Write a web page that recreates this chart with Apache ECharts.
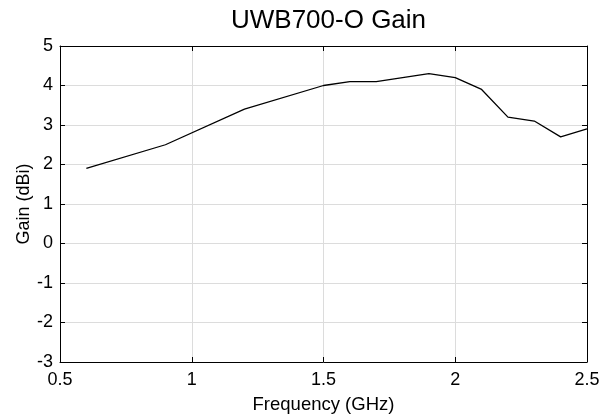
<!DOCTYPE html>
<html><head><meta charset="utf-8">
<script src="https://cdn.jsdelivr.net/npm/echarts@6/dist/echarts.min.js"></script>
<style>html,body{margin:0;padding:0;background:#fff}#c{width:611px;height:419px}</style>
</head><body><div id="c"></div>
<script>
const freq = [0.6, 0.9, 1.2, 1.5, 1.6, 1.7, 1.9, 2.0, 2.1, 2.2, 2.3, 2.4, 2.5];
const gain = [1.9, 2.5, 3.4, 4.0, 4.1, 4.1, 4.3, 4.2, 3.9, 3.2, 3.1, 2.7, 2.9];
const chart = echarts.init(document.getElementById('c'));
const font = 'Liberation Sans, Arial, Helvetica, sans-serif';
const axBase = {
  axisLine: {show: true, onZero: false, lineStyle: {color: '#000', width: 1}},
  axisTick: {show: true, inside: true, length: 5, lineStyle: {color: '#000'}},
  axisLabel: {color: '#000', fontSize: 18, fontFamily: font},
  splitLine: {show: true, lineStyle: {color: '#dcdcdc', width: 1}}
};
chart.setOption({
  animation: false,
  title: {text: 'UWB700-O Gain', left: 226, top: 3, textStyle: {fontSize: 26, fontWeight: 'normal', color: '#000', fontFamily: font}},
  grid: {left: 60, right: 24, top: 46, bottom: 55},
  xAxis: [
    Object.assign({}, axBase, {type: 'value', min: 0.5, max: 2.5, interval: 0.5, name: 'Frequency (GHz)', nameLocation: 'middle', nameGap: 33, nameMoveOverlap: false, nameTextStyle: {fontSize: 18.5, color: '#000', fontFamily: font}, axisLabel: Object.assign({}, axBase.axisLabel, {margin: 9})}),
    Object.assign({}, axBase, {type: 'value', position: 'top', min: 0.5, max: 2.5, interval: 0.5, axisLabel: {show: false}, splitLine: {show: false}})
  ],
  yAxis: [
    Object.assign({}, axBase, {type: 'value', min: -3, max: 5, interval: 1, name: 'Gain (dBi)', nameLocation: 'middle', nameGap: 27, nameMoveOverlap: false, nameTextStyle: {fontSize: 18, color: '#000', fontFamily: font}, axisLabel: Object.assign({}, axBase.axisLabel, {margin: 7})}),
    Object.assign({}, axBase, {type: 'value', position: 'right', min: -3, max: 5, interval: 1, axisLabel: {show: false}, splitLine: {show: false}})
  ],
  series: [{
    type: 'line', data: freq.map((f, i) => [f, gain[i]]), showSymbol: false,
    lineStyle: {color: '#000', width: 1.3}, itemStyle: {color: '#000'}
  }]
});
</script></body></html>
